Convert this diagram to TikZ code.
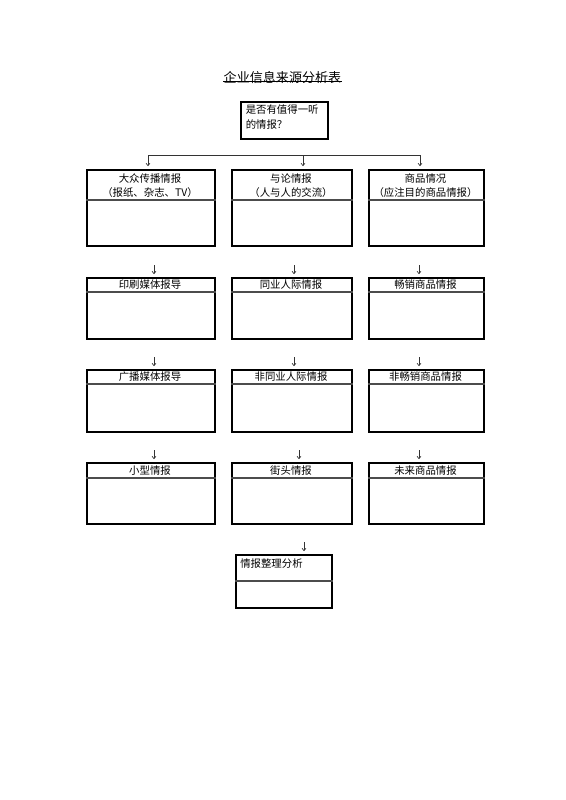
\documentclass[tikz,border=0pt]{standalone}
\usepackage{fontspec}
\setmainfont{Noto Sans CJK SC}
\usetikzlibrary{arrows.meta}
\tikzset{
  box/.style={draw=black,line width=1.4pt,inner sep=0pt,anchor=north west},
  divider/.style={draw=black!70,line width=0.8pt},
  hdr/.style={font=\fontsize{7.8pt}{11pt}\selectfont,inner sep=0pt,align=center},
  arr/.style={draw=black!80,line width=0.5pt,-{To[length=2.2pt,width=3.2pt]}},
  hline/.style={draw=black!80,line width=0.6pt},
}
\begin{document}
\begin{tikzpicture}[x=0.75pt,y=-0.75pt]
\useasboundingbox (0,0) rectangle (566,800);
% title
\node[font=\fontsize{9.8pt}{12pt}\selectfont,inner sep=0pt] (title) at (282.5,77) {企业信息来源分析表};
\draw[line width=0.7pt] (title.south west)++(0,-1.5) coordinate (ul1) -- (ul1 -| title.south east);
% top question box
\node[box,minimum width=87*0.75pt,minimum height=37*0.75pt] (q) at (240,101) {};
\node[hdr,anchor=north west,align=left] (qt) at (245.5,104.5) {是否有值得一听\\的情报？};
% helper macro for boxes
\newcommand{\mybox}[6]{% name, x, y, w, h, divider y
  \node[box,minimum width=#4*0.75pt,minimum height=#5*0.75pt] (#1) at (#2,#3) {};
  \draw[divider] (#1.west |- 0,#6) -- (#1.east |- 0,#6);
}
% row 1
\mybox{a1}{86}{169}{128}{76}{200}
\mybox{b1}{231}{169}{120}{76}{200}
\mybox{c1}{368}{169}{115}{76}{200}
\node[hdr] at (150,185.5) {大众传播情报\\（报纸、杂志、TV）};
\node[hdr] at (291,185.5) {与论情报\\（人与人的交流）};
\node[hdr] at (425.5,185.5) {商品情况\\（应注目的商品情报）};
% row 2
\mybox{a2}{86}{277}{128}{61}{292}
\mybox{b2}{231}{277}{120}{61}{292}
\mybox{c2}{368}{277}{115}{61}{292}
\node[hdr] at (150,285) {印刷媒体报导};
\node[hdr] at (291,285) {同业人际情报};
\node[hdr] at (425.5,285) {畅销商品情报};
% row 3
\mybox{a3}{86}{369}{128}{62}{384}
\mybox{b3}{231}{369}{120}{62}{384}
\mybox{c3}{368}{369}{115}{62}{384}
\node[hdr] at (150,377) {广播媒体报导};
\node[hdr] at (291,377) {非同业人际情报};
\node[hdr] at (425.5,377) {非畅销商品情报};
% row 4
\mybox{a4}{86}{462}{128}{61}{478}
\mybox{b4}{231}{462}{120}{61}{478}
\mybox{c4}{368}{462}{115}{61}{478}
\node[hdr] at (150,471) {小型情报};
\node[hdr] at (291,471) {街头情报};
\node[hdr] at (425.5,471) {未来商品情报};
% final
\mybox{f}{235}{554}{96}{53}{581}
\node[hdr,anchor=west] at (240,564) {情报整理分析};
% connectors row 1
\coordinate (hl) at (148,155);
\coordinate (hr) at (420,155);
\draw[hline] (hl) -- (hr);
\draw[arr] (hl) -- (148,166) coordinate (ta1);
\draw[arr] (303,155) coordinate (hm) -- (303,166) coordinate (tb1);
\draw[arr] (hr) -- (420,166) coordinate (tc1);
% small arrows above rows 2-4 and final
\foreach \x/\n in {154/a,294/b,419/c}{
  \draw[arr] (\x,265) coordinate (s\n2) -- (\x,274) coordinate (e\n2);
  \draw[arr] (\x,357) coordinate (s\n3) -- (\x,366) coordinate (e\n3);
}
\draw[arr] (154,450) coordinate (sa4) -- (154,459) coordinate (ea4);
\draw[arr] (299,450) coordinate (sb4) -- (299,459) coordinate (eb4);
\draw[arr] (419,450) coordinate (sc4) -- (419,459) coordinate (ec4);
\draw[arr] (304,542) coordinate (sf) -- (304,551) coordinate (ef);
\end{tikzpicture}
\end{document}
